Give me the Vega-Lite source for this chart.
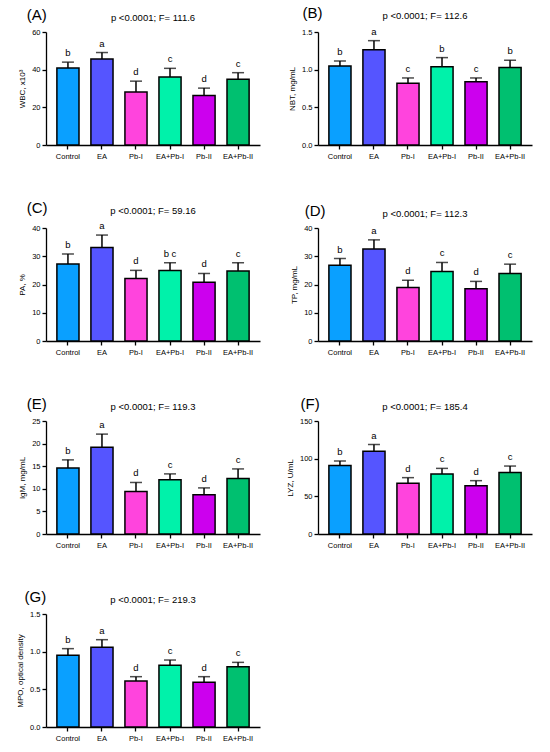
{
  "$schema": "https://vega.github.io/schema/vega-lite/v6.json",
  "description": "Seven bar panels with error bars and letter groups",
  "datasets": {
    "bars": [
      {"panel": "A", "group": "Control", "value": 40.9, "err": 44.0, "letter": "b"},
      {"panel": "A", "group": "EA", "value": 45.6, "err": 49.1, "letter": "a"},
      {"panel": "A", "group": "Pb-I", "value": 28.2, "err": 33.9, "letter": "d"},
      {"panel": "A", "group": "EA+Pb-I", "value": 36.1, "err": 40.7, "letter": "c"},
      {"panel": "A", "group": "Pb-II", "value": 26.3, "err": 30.2, "letter": "d"},
      {"panel": "A", "group": "EA+Pb-II", "value": 34.9, "err": 38.4, "letter": "c"},
      {"panel": "B", "group": "Control", "value": 1.05, "err": 1.116, "letter": "b"},
      {"panel": "B", "group": "EA", "value": 1.266, "err": 1.385, "letter": "a"},
      {"panel": "B", "group": "Pb-I", "value": 0.82, "err": 0.89, "letter": "c"},
      {"panel": "B", "group": "EA+Pb-I", "value": 1.04, "err": 1.16, "letter": "b"},
      {"panel": "B", "group": "Pb-II", "value": 0.838, "err": 0.89, "letter": "c"},
      {"panel": "B", "group": "EA+Pb-II", "value": 1.03, "err": 1.125, "letter": "b"},
      {"panel": "C", "group": "Control", "value": 27.25, "err": 30.8, "letter": "b"},
      {"panel": "C", "group": "EA", "value": 33.1, "err": 37.5, "letter": "a"},
      {"panel": "C", "group": "Pb-I", "value": 22.1, "err": 25.0, "letter": "d"},
      {"panel": "C", "group": "EA+Pb-I", "value": 25.0, "err": 27.7, "letter": "b c"},
      {"panel": "C", "group": "Pb-II", "value": 20.8, "err": 23.9, "letter": "d"},
      {"panel": "C", "group": "EA+Pb-II", "value": 24.8, "err": 27.7, "letter": "c"},
      {"panel": "D", "group": "Control", "value": 26.8, "err": 29.2, "letter": "b"},
      {"panel": "D", "group": "EA", "value": 32.6, "err": 35.8, "letter": "a"},
      {"panel": "D", "group": "Pb-I", "value": 18.9, "err": 21.5, "letter": "d"},
      {"panel": "D", "group": "EA+Pb-I", "value": 24.6, "err": 27.8, "letter": "c"},
      {"panel": "D", "group": "Pb-II", "value": 18.5, "err": 21.1, "letter": "d"},
      {"panel": "D", "group": "EA+Pb-II", "value": 23.9, "err": 27.2, "letter": "c"},
      {"panel": "E", "group": "Control", "value": 14.6, "err": 16.4, "letter": "b"},
      {"panel": "E", "group": "EA", "value": 19.2, "err": 22.1, "letter": "a"},
      {"panel": "E", "group": "Pb-I", "value": 9.4, "err": 11.4, "letter": "d"},
      {"panel": "E", "group": "EA+Pb-I", "value": 12.0, "err": 13.3, "letter": "c"},
      {"panel": "E", "group": "Pb-II", "value": 8.7, "err": 10.2, "letter": "d"},
      {"panel": "E", "group": "EA+Pb-II", "value": 12.3, "err": 14.4, "letter": "c"},
      {"panel": "F", "group": "Control", "value": 91, "err": 96.8, "letter": "b"},
      {"panel": "F", "group": "EA", "value": 110, "err": 118.8, "letter": "a"},
      {"panel": "F", "group": "Pb-I", "value": 67.3, "err": 74.8, "letter": "d"},
      {"panel": "F", "group": "EA+Pb-I", "value": 79.6, "err": 87.1, "letter": "c"},
      {"panel": "F", "group": "Pb-II", "value": 64.2, "err": 70.8, "letter": "d"},
      {"panel": "F", "group": "EA+Pb-II", "value": 81.8, "err": 90.2, "letter": "c"},
      {"panel": "G", "group": "Control", "value": 0.951, "err": 1.04, "letter": "b"},
      {"panel": "G", "group": "EA", "value": 1.057, "err": 1.159, "letter": "a"},
      {"panel": "G", "group": "Pb-I", "value": 0.61, "err": 0.668, "letter": "d"},
      {"panel": "G", "group": "EA+Pb-I", "value": 0.819, "err": 0.889, "letter": "c"},
      {"panel": "G", "group": "Pb-II", "value": 0.593, "err": 0.668, "letter": "d"},
      {"panel": "G", "group": "EA+Pb-II", "value": 0.80, "err": 0.858, "letter": "c"}
    ]
  },
  "data": {"name": "bars"},
  "columns": 2,
  "spacing": {"row": 40, "column": 26},
  "resolve": {"scale": {"x": "independent", "y": "independent"}},
  "concat": [
    {
      "title": {"text": "(A)", "dy": 14},
      "vconcat": [
        {
          "title": {"text": "p <0.0001; F= 111.6", "fontSize": 9.5, "anchor": "middle", "frame": "group", "dx": 0, "offset": 6},
          "width": 214, "height": 113,
          "transform": [{"filter": "datum.panel == 'A'"}],
          "encoding": {
            "x": {"field": "group", "type": "nominal", "title": null,
              "sort": ["Control", "EA", "Pb-I", "EA+Pb-I", "Pb-II", "EA+Pb-II"],
              "scale": {"paddingInner": 0.35, "paddingOuter": 0.32}},
            "y": {"field": "value", "type": "quantitative", "title": "WBC, x10³",
              "scale": {"domain": [0, 60]}, "axis": {"values": [0, 20, 40, 60]}}
          },
          "layer": [
            {"mark": {"type": "bar", "stroke": "black", "strokeWidth": 1.5},
              "encoding": {"color": {"field": "group", "type": "nominal", "legend": null,
                "scale": {"domain": ["Control", "EA", "Pb-I", "EA+Pb-I", "Pb-II", "EA+Pb-II"],
                  "range": ["#0AA0FF", "#5555FF", "#FF44DD", "#00F2AA", "#CC00EE", "#00C070"]}}}},
            {"mark": {"type": "rule", "color": "black", "strokeWidth": 1.5},
              "encoding": {"y2": {"field": "err"}}},
            {"mark": {"type": "tick", "color": "black", "thickness": 1.5, "size": 12},
              "encoding": {"y": {"field": "err", "type": "quantitative"}}},
            {"mark": {"type": "text", "baseline": "bottom", "dy": -4},
              "encoding": {"y": {"field": "err", "type": "quantitative"}, "text": {"field": "letter"}}}
          ]
        }
      ]
    },
    {
      "title": {"text": "(B)", "dy": 14, "dx": 14},
      "vconcat": [
        {
          "title": {"text": "p <0.0001; F= 112.6", "fontSize": 9.5, "anchor": "middle", "frame": "group", "dx": 0, "offset": 6},
          "width": 214, "height": 113,
          "transform": [{"filter": "datum.panel == 'B'"}],
          "encoding": {
            "x": {"field": "group", "type": "nominal", "title": null,
              "sort": ["Control", "EA", "Pb-I", "EA+Pb-I", "Pb-II", "EA+Pb-II"],
              "scale": {"paddingInner": 0.35, "paddingOuter": 0.32}},
            "y": {"field": "value", "type": "quantitative", "title": "NBT, mg/mL",
              "scale": {"domain": [0, 1.5]}, "axis": {"values": [0, 0.5, 1, 1.5], "format": ".1f"}}
          },
          "layer": [
            {"mark": {"type": "bar", "stroke": "black", "strokeWidth": 1.5},
              "encoding": {"color": {"field": "group", "type": "nominal", "legend": null,
                "scale": {"domain": ["Control", "EA", "Pb-I", "EA+Pb-I", "Pb-II", "EA+Pb-II"],
                  "range": ["#0AA0FF", "#5555FF", "#FF44DD", "#00F2AA", "#CC00EE", "#00C070"]}}}},
            {"mark": {"type": "rule", "color": "black", "strokeWidth": 1.5},
              "encoding": {"y2": {"field": "err"}}},
            {"mark": {"type": "tick", "color": "black", "thickness": 1.5, "size": 12},
              "encoding": {"y": {"field": "err", "type": "quantitative"}}},
            {"mark": {"type": "text", "baseline": "bottom", "dy": -4},
              "encoding": {"y": {"field": "err", "type": "quantitative"}, "text": {"field": "letter"}}}
          ]
        }
      ]
    },
    {
      "title": {"text": "(C)", "dy": 14},
      "vconcat": [
        {
          "title": {"text": "p <0.0001; F= 59.16", "fontSize": 9.5, "anchor": "middle", "frame": "group", "dx": 0, "offset": 6},
          "width": 214, "height": 113,
          "transform": [{"filter": "datum.panel == 'C'"}],
          "encoding": {
            "x": {"field": "group", "type": "nominal", "title": null,
              "sort": ["Control", "EA", "Pb-I", "EA+Pb-I", "Pb-II", "EA+Pb-II"],
              "scale": {"paddingInner": 0.35, "paddingOuter": 0.32}},
            "y": {"field": "value", "type": "quantitative", "title": "PA, %",
              "scale": {"domain": [0, 40]}, "axis": {"values": [0, 10, 20, 30, 40]}}
          },
          "layer": [
            {"mark": {"type": "bar", "stroke": "black", "strokeWidth": 1.5},
              "encoding": {"color": {"field": "group", "type": "nominal", "legend": null,
                "scale": {"domain": ["Control", "EA", "Pb-I", "EA+Pb-I", "Pb-II", "EA+Pb-II"],
                  "range": ["#0AA0FF", "#5555FF", "#FF44DD", "#00F2AA", "#CC00EE", "#00C070"]}}}},
            {"mark": {"type": "rule", "color": "black", "strokeWidth": 1.5},
              "encoding": {"y2": {"field": "err"}}},
            {"mark": {"type": "tick", "color": "black", "thickness": 1.5, "size": 12},
              "encoding": {"y": {"field": "err", "type": "quantitative"}}},
            {"mark": {"type": "text", "baseline": "bottom", "dy": -4},
              "encoding": {"y": {"field": "err", "type": "quantitative"}, "text": {"field": "letter"}}}
          ]
        }
      ]
    },
    {
      "title": {"text": "(D)", "dy": 14, "dx": 14},
      "vconcat": [
        {
          "title": {"text": "p <0.0001; F= 112.3", "fontSize": 9.5, "anchor": "middle", "frame": "group", "dx": 0, "offset": 6},
          "width": 214, "height": 113,
          "transform": [{"filter": "datum.panel == 'D'"}],
          "encoding": {
            "x": {"field": "group", "type": "nominal", "title": null,
              "sort": ["Control", "EA", "Pb-I", "EA+Pb-I", "Pb-II", "EA+Pb-II"],
              "scale": {"paddingInner": 0.35, "paddingOuter": 0.32}},
            "y": {"field": "value", "type": "quantitative", "title": "TP, mg/mL",
              "scale": {"domain": [0, 40]}, "axis": {"values": [0, 10, 20, 30, 40]}}
          },
          "layer": [
            {"mark": {"type": "bar", "stroke": "black", "strokeWidth": 1.5},
              "encoding": {"color": {"field": "group", "type": "nominal", "legend": null,
                "scale": {"domain": ["Control", "EA", "Pb-I", "EA+Pb-I", "Pb-II", "EA+Pb-II"],
                  "range": ["#0AA0FF", "#5555FF", "#FF44DD", "#00F2AA", "#CC00EE", "#00C070"]}}}},
            {"mark": {"type": "rule", "color": "black", "strokeWidth": 1.5},
              "encoding": {"y2": {"field": "err"}}},
            {"mark": {"type": "tick", "color": "black", "thickness": 1.5, "size": 12},
              "encoding": {"y": {"field": "err", "type": "quantitative"}}},
            {"mark": {"type": "text", "baseline": "bottom", "dy": -4},
              "encoding": {"y": {"field": "err", "type": "quantitative"}, "text": {"field": "letter"}}}
          ]
        }
      ]
    },
    {
      "title": {"text": "(E)", "dy": 14},
      "vconcat": [
        {
          "title": {"text": "p <0.0001; F= 119.3", "fontSize": 9.5, "anchor": "middle", "frame": "group", "dx": 0, "offset": 6},
          "width": 214, "height": 113,
          "transform": [{"filter": "datum.panel == 'E'"}],
          "encoding": {
            "x": {"field": "group", "type": "nominal", "title": null,
              "sort": ["Control", "EA", "Pb-I", "EA+Pb-I", "Pb-II", "EA+Pb-II"],
              "scale": {"paddingInner": 0.35, "paddingOuter": 0.32}},
            "y": {"field": "value", "type": "quantitative", "title": "IgM, mg/mL",
              "scale": {"domain": [0, 25]}, "axis": {"values": [0, 5, 10, 15, 20, 25]}}
          },
          "layer": [
            {"mark": {"type": "bar", "stroke": "black", "strokeWidth": 1.5},
              "encoding": {"color": {"field": "group", "type": "nominal", "legend": null,
                "scale": {"domain": ["Control", "EA", "Pb-I", "EA+Pb-I", "Pb-II", "EA+Pb-II"],
                  "range": ["#0AA0FF", "#5555FF", "#FF44DD", "#00F2AA", "#CC00EE", "#00C070"]}}}},
            {"mark": {"type": "rule", "color": "black", "strokeWidth": 1.5},
              "encoding": {"y2": {"field": "err"}}},
            {"mark": {"type": "tick", "color": "black", "thickness": 1.5, "size": 12},
              "encoding": {"y": {"field": "err", "type": "quantitative"}}},
            {"mark": {"type": "text", "baseline": "bottom", "dy": -4},
              "encoding": {"y": {"field": "err", "type": "quantitative"}, "text": {"field": "letter"}}}
          ]
        }
      ]
    },
    {
      "title": {"text": "(F)", "dy": 14, "dx": 14},
      "vconcat": [
        {
          "title": {"text": "p <0.0001; F= 185.4", "fontSize": 9.5, "anchor": "middle", "frame": "group", "dx": 0, "offset": 6},
          "width": 214, "height": 113,
          "transform": [{"filter": "datum.panel == 'F'"}],
          "encoding": {
            "x": {"field": "group", "type": "nominal", "title": null,
              "sort": ["Control", "EA", "Pb-I", "EA+Pb-I", "Pb-II", "EA+Pb-II"],
              "scale": {"paddingInner": 0.35, "paddingOuter": 0.32}},
            "y": {"field": "value", "type": "quantitative", "title": "LYZ, U/mL",
              "scale": {"domain": [0, 150]}, "axis": {"values": [0, 50, 100, 150]}}
          },
          "layer": [
            {"mark": {"type": "bar", "stroke": "black", "strokeWidth": 1.5},
              "encoding": {"color": {"field": "group", "type": "nominal", "legend": null,
                "scale": {"domain": ["Control", "EA", "Pb-I", "EA+Pb-I", "Pb-II", "EA+Pb-II"],
                  "range": ["#0AA0FF", "#5555FF", "#FF44DD", "#00F2AA", "#CC00EE", "#00C070"]}}}},
            {"mark": {"type": "rule", "color": "black", "strokeWidth": 1.5},
              "encoding": {"y2": {"field": "err"}}},
            {"mark": {"type": "tick", "color": "black", "thickness": 1.5, "size": 12},
              "encoding": {"y": {"field": "err", "type": "quantitative"}}},
            {"mark": {"type": "text", "baseline": "bottom", "dy": -4},
              "encoding": {"y": {"field": "err", "type": "quantitative"}, "text": {"field": "letter"}}}
          ]
        }
      ]
    },
    {
      "title": {"text": "(G)", "dy": 14},
      "vconcat": [
        {
          "title": {"text": "p <0.0001; F= 219.3", "fontSize": 9.5, "anchor": "middle", "frame": "group", "dx": 0, "offset": 6},
          "width": 214, "height": 113,
          "transform": [{"filter": "datum.panel == 'G'"}],
          "encoding": {
            "x": {"field": "group", "type": "nominal", "title": null,
              "sort": ["Control", "EA", "Pb-I", "EA+Pb-I", "Pb-II", "EA+Pb-II"],
              "scale": {"paddingInner": 0.35, "paddingOuter": 0.32}},
            "y": {"field": "value", "type": "quantitative", "title": "MPO, optical density",
              "scale": {"domain": [0, 1.5]}, "axis": {"values": [0, 0.5, 1, 1.5], "format": ".1f"}}
          },
          "layer": [
            {"mark": {"type": "bar", "stroke": "black", "strokeWidth": 1.5},
              "encoding": {"color": {"field": "group", "type": "nominal", "legend": null,
                "scale": {"domain": ["Control", "EA", "Pb-I", "EA+Pb-I", "Pb-II", "EA+Pb-II"],
                  "range": ["#0AA0FF", "#5555FF", "#FF44DD", "#00F2AA", "#CC00EE", "#00C070"]}}}},
            {"mark": {"type": "rule", "color": "black", "strokeWidth": 1.5},
              "encoding": {"y2": {"field": "err"}}},
            {"mark": {"type": "tick", "color": "black", "thickness": 1.5, "size": 12},
              "encoding": {"y": {"field": "err", "type": "quantitative"}}},
            {"mark": {"type": "text", "baseline": "bottom", "dy": -4},
              "encoding": {"y": {"field": "err", "type": "quantitative"}, "text": {"field": "letter"}}}
          ]
        }
      ]
    }
  ],
  "config": {
    "font": "Liberation Sans",
    "padding": {"top": 6, "left": 16, "right": 4, "bottom": 4},
    "view": {"stroke": null},
    "title": {"fontWeight": "normal", "color": "black", "font": "Liberation Sans", "fontSize": 15, "anchor": "start", "frame": "bounds", "dx": 8, "offset": 0},
    "concat": {"spacing": 26},
    "axis": {
      "grid": false, "domainColor": "black", "tickColor": "black", "labelColor": "black", "titleColor": "black",
      "domainWidth": 1.3, "tickWidth": 1.3, "tickSize": 4,
      "labelFont": "Liberation Sans", "titleFont": "Liberation Sans",
      "labelFontSize": 7.5, "titleFontSize": 8, "titleFontWeight": "normal"
    },
    "axisX": {"labelAngle": 0, "labelPadding": 3},
    "axisY": {"titlePadding": 5, "labelPadding": 2},
    "text": {"font": "Liberation Sans", "fontSize": 9.5, "color": "black"}
  }
}
